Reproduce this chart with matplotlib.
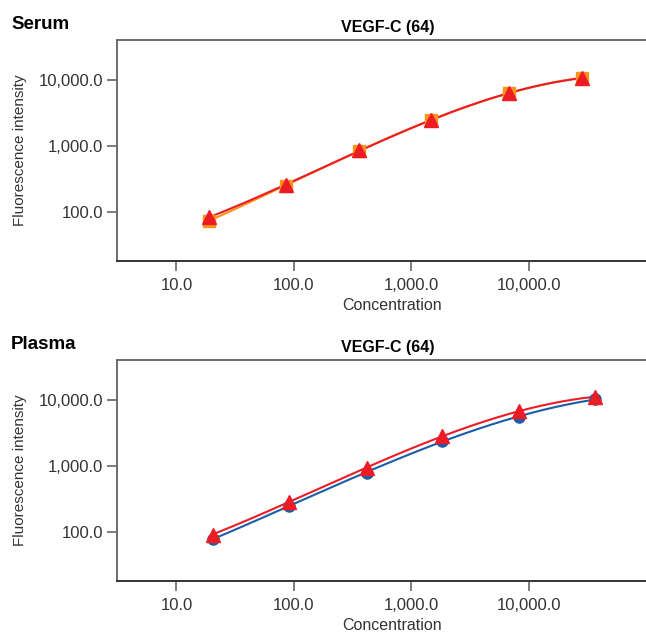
import matplotlib.pyplot as plt
import numpy as np

plt.rcParams['font.family'] = ['Liberation Sans', 'DejaVu Sans']

# 数据
serum_conc = [18.9, 85.0, 357.0, 1486.0, 6760.0, 28500.0]
serum_sq = [72.4, 247.0, 844.0, 2466.0, 6280.0, 10830.0]
serum_tri = [82.0, 252.0, 850.0, 2450.0, 6300.0, 10700.0]

plasma_conc = [20.3, 90.6, 418.0, 1820.0, 8300.0, 37000.0]
plasma_circ = [76.4, 245.0, 785.0, 2405.0, 5520.0, 10250.0]
plasma_tri = [90.0, 285.0, 930.0, 2800.0, 6800.0, 11200.0]

xticks = [10, 100, 1000, 10000]
xlabels = ['10.0', '100.0', '1,000.0', '10,000.0']
yticks = [100, 1000, 10000]
ylabels = ['100.0', '1,000.0', '10,000.0']

ORANGE = '#F7941D'
RED = '#ED1C24'
BLUE = '#1A5EA8'


def fit_line(ax, x, y, color):
    # 对数坐标下三次多项式拟合
    lx, ly = np.log10(x), np.log10(y)
    p = np.polyfit(lx, ly, 3)
    xs = np.linspace(lx.min(), lx.max(), 200)
    ax.plot(10 ** xs, 10 ** np.polyval(p, xs), color=color, lw=1.5, zorder=2)


def style(ax, name):
    ax.set_xscale('log')
    ax.set_yscale('log')
    ax.set_xlim(10 ** 0.494, 10 ** 5.0)
    ax.set_ylim(10 ** 1.249, 10 ** 4.608)
    ax.set_xticks(xticks, xlabels)
    ax.set_yticks(yticks, ylabels)
    ax.minorticks_off()
    ax.tick_params(length=7.2, width=1.2, color='#666666', labelsize=12,
                   labelcolor='#333333', pad=3)
    ax.tick_params(axis='x', pad=5)
    ax.spines['right'].set_visible(False)
    for s in ['left', 'top']:
        ax.spines[s].set_color('#6d6d6d')
        ax.spines[s].set_linewidth(1.4)
    ax.spines['bottom'].set_color('#333333')
    ax.spines['bottom'].set_linewidth(1.4)
    ax.set_xlabel('Concentration', fontsize=11.5, color='#333333', labelpad=4, x=0.52)
    ax.set_ylabel('Fluorescence intensity', fontsize=11, color='#333333', labelpad=8)
    ax.set_title('VEGF-C (64)', fontsize=11.5, fontweight='bold', pad=6, x=0.512)
    ax.text(-0.2, 1.072, name, transform=ax.transAxes, fontsize=13.5,
            fontweight='bold', ha='left', va='center')


fig = plt.figure(figsize=(6.46, 6.33), dpi=100)
ax1 = fig.add_axes([117 / 646, 1 - 261 / 633, 1 - 117 / 646, 221 / 633])
ax2 = fig.add_axes([117 / 646, 1 - 581 / 633, 1 - 117 / 646, 221 / 633])

# Serum
fit_line(ax1, serum_conc, serum_sq, ORANGE)
fit_line(ax1, serum_conc, serum_tri, RED)
ax1.plot(serum_conc, serum_sq, 's', color=ORANGE, ms=8.5, ls='none', zorder=3)
ax1.plot(serum_conc, serum_tri, '^', color=RED, ms=9.5, ls='none', zorder=4)
style(ax1, 'Serum')

# Plasma
fit_line(ax2, plasma_conc, plasma_circ, BLUE)
fit_line(ax2, plasma_conc, plasma_tri, RED)
ax2.plot(plasma_conc, plasma_circ, 'o', color=BLUE, ms=8, ls='none', zorder=3)
ax2.plot(plasma_conc, plasma_tri, '^', color=RED, ms=9.5, ls='none', zorder=4)
style(ax2, 'Plasma')

fig.savefig('out.png', dpi=100)
